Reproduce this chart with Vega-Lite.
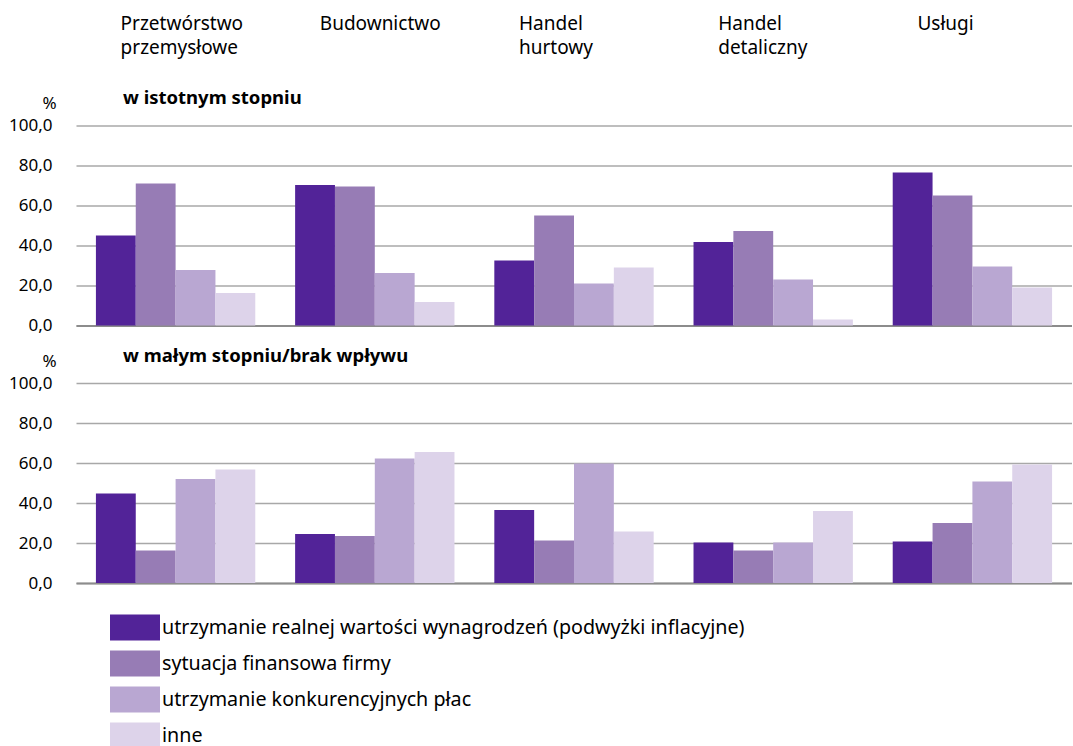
{
  "$schema": "https://vega.github.io/schema/vega-lite/v6.json",
  "background": "white",
  "padding": {"left": 8, "top": 5, "right": 0, "bottom": 0},
  "config": {
    "font": "Noto Sans",
    "view": {"stroke": null},
    "concat": {"spacing": 12.5}
  },
  "datasets": {
    "bars": [
      {"sektor": "Przetwórstwo przemysłowe", "panel": "a", "seria": "utrzymanie realnej wartości wynagrodzeń (podwyżki inflacyjne)", "wartosc": 45.0},
      {"sektor": "Przetwórstwo przemysłowe", "panel": "a", "seria": "sytuacja finansowa firmy", "wartosc": 71.0},
      {"sektor": "Przetwórstwo przemysłowe", "panel": "a", "seria": "utrzymanie konkurencyjnych płac", "wartosc": 27.8},
      {"sektor": "Przetwórstwo przemysłowe", "panel": "a", "seria": "inne", "wartosc": 16.2},
      {"sektor": "Budownictwo", "panel": "a", "seria": "utrzymanie realnej wartości wynagrodzeń (podwyżki inflacyjne)", "wartosc": 70.3},
      {"sektor": "Budownictwo", "panel": "a", "seria": "sytuacja finansowa firmy", "wartosc": 69.5},
      {"sektor": "Budownictwo", "panel": "a", "seria": "utrzymanie konkurencyjnych płac", "wartosc": 26.2},
      {"sektor": "Budownictwo", "panel": "a", "seria": "inne", "wartosc": 11.8},
      {"sektor": "Handel hurtowy", "panel": "a", "seria": "utrzymanie realnej wartości wynagrodzeń (podwyżki inflacyjne)", "wartosc": 32.5},
      {"sektor": "Handel hurtowy", "panel": "a", "seria": "sytuacja finansowa firmy", "wartosc": 55.0},
      {"sektor": "Handel hurtowy", "panel": "a", "seria": "utrzymanie konkurencyjnych płac", "wartosc": 21.0},
      {"sektor": "Handel hurtowy", "panel": "a", "seria": "inne", "wartosc": 29.0},
      {"sektor": "Handel detaliczny", "panel": "a", "seria": "utrzymanie realnej wartości wynagrodzeń (podwyżki inflacyjne)", "wartosc": 41.8},
      {"sektor": "Handel detaliczny", "panel": "a", "seria": "sytuacja finansowa firmy", "wartosc": 47.3},
      {"sektor": "Handel detaliczny", "panel": "a", "seria": "utrzymanie konkurencyjnych płac", "wartosc": 23.0},
      {"sektor": "Handel detaliczny", "panel": "a", "seria": "inne", "wartosc": 3.0},
      {"sektor": "Usługi", "panel": "a", "seria": "utrzymanie realnej wartości wynagrodzeń (podwyżki inflacyjne)", "wartosc": 76.5},
      {"sektor": "Usługi", "panel": "a", "seria": "sytuacja finansowa firmy", "wartosc": 65.0},
      {"sektor": "Usługi", "panel": "a", "seria": "utrzymanie konkurencyjnych płac", "wartosc": 29.5},
      {"sektor": "Usługi", "panel": "a", "seria": "inne", "wartosc": 19.0},
      {"sektor": "Przetwórstwo przemysłowe", "panel": "b", "seria": "utrzymanie realnej wartości wynagrodzeń (podwyżki inflacyjne)", "wartosc": 44.7},
      {"sektor": "Przetwórstwo przemysłowe", "panel": "b", "seria": "sytuacja finansowa firmy", "wartosc": 16.2},
      {"sektor": "Przetwórstwo przemysłowe", "panel": "b", "seria": "utrzymanie konkurencyjnych płac", "wartosc": 52.0},
      {"sektor": "Przetwórstwo przemysłowe", "panel": "b", "seria": "inne", "wartosc": 56.8},
      {"sektor": "Budownictwo", "panel": "b", "seria": "utrzymanie realnej wartości wynagrodzeń (podwyżki inflacyjne)", "wartosc": 24.5},
      {"sektor": "Budownictwo", "panel": "b", "seria": "sytuacja finansowa firmy", "wartosc": 23.5},
      {"sektor": "Budownictwo", "panel": "b", "seria": "utrzymanie konkurencyjnych płac", "wartosc": 62.2},
      {"sektor": "Budownictwo", "panel": "b", "seria": "inne", "wartosc": 65.5},
      {"sektor": "Handel hurtowy", "panel": "b", "seria": "utrzymanie realnej wartości wynagrodzeń (podwyżki inflacyjne)", "wartosc": 36.5},
      {"sektor": "Handel hurtowy", "panel": "b", "seria": "sytuacja finansowa firmy", "wartosc": 21.3},
      {"sektor": "Handel hurtowy", "panel": "b", "seria": "utrzymanie konkurencyjnych płac", "wartosc": 59.8},
      {"sektor": "Handel hurtowy", "panel": "b", "seria": "inne", "wartosc": 25.7},
      {"sektor": "Handel detaliczny", "panel": "b", "seria": "utrzymanie realnej wartości wynagrodzeń (podwyżki inflacyjne)", "wartosc": 20.3},
      {"sektor": "Handel detaliczny", "panel": "b", "seria": "sytuacja finansowa firmy", "wartosc": 16.3},
      {"sektor": "Handel detaliczny", "panel": "b", "seria": "utrzymanie konkurencyjnych płac", "wartosc": 20.3},
      {"sektor": "Handel detaliczny", "panel": "b", "seria": "inne", "wartosc": 36.0},
      {"sektor": "Usługi", "panel": "b", "seria": "utrzymanie realnej wartości wynagrodzeń (podwyżki inflacyjne)", "wartosc": 20.7},
      {"sektor": "Usługi", "panel": "b", "seria": "sytuacja finansowa firmy", "wartosc": 30.0},
      {"sektor": "Usługi", "panel": "b", "seria": "utrzymanie konkurencyjnych płac", "wartosc": 50.8},
      {"sektor": "Usługi", "panel": "b", "seria": "inne", "wartosc": 59.3}
    ],
    "naglowki": [
      {"sektor": "Przetwórstwo przemysłowe", "etykieta": "Przetwórstwo|przemysłowe"},
      {"sektor": "Budownictwo", "etykieta": "Budownictwo"},
      {"sektor": "Handel hurtowy", "etykieta": "Handel|hurtowy"},
      {"sektor": "Handel detaliczny", "etykieta": "Handel|detaliczny"},
      {"sektor": "Usługi", "etykieta": "Usługi"}
    ]
  },
  "vconcat": [
    {
      "width": 996,
      "height": 71,
      "data": {"name": "naglowki"},
      "mark": {"type": "text", "align": "left", "baseline": "top", "lineBreak": "|", "dx": -55, "dy": -26, "fontSize": 19, "lineHeight": 24, "color": "black"},
      "encoding": {
        "x": {"field": "sektor", "type": "nominal", "sort": null, "axis": null, "scale": {"paddingInner": 0, "paddingOuter": 0}},
        "text": {"field": "etykieta", "type": "nominal"}
      }
    },
    {
      "width": 996,
      "height": 200,
      "data": {"name": "bars"},
      "transform": [{"filter": "datum.panel === 'a'"}],
      "title": {"text": "w istotnym stopniu", "anchor": "start", "frame": "group", "fontSize": 18.5, "fontWeight": "bold", "dx": 47, "offset": -13, "color": "black"},
      "mark": {"type": "bar"},
      "encoding": {
        "x": {"field": "sektor", "type": "nominal", "sort": null, "title": null, "scale": {"paddingInner": 0.2, "paddingOuter": 0.1},
          "axis": {"labels": false, "ticks": false, "domain": true, "domainColor": "#8c8c8c", "domainWidth": 2}},
        "xOffset": {"field": "seria", "type": "nominal", "sort": null, "scale": {"paddingInner": 0, "paddingOuter": 0}},
        "y": {"field": "wartosc", "type": "quantitative", "scale": {"domain": [0, 100]}, "title": "%",
          "axis": {"values": [0, 20, 40, 60, 80, 100], "labelExpr": "replace(format(datum.value, '.1f'), '.', ',')", "domain": false, "ticks": false, "labelPadding": 24, "labelFontSize": 17, "labelColor": "black", "gridColor": "#a8a8a8", "gridWidth": 1.6,
            "titleAngle": 0, "titleX": -27, "titleY": -22, "titleAlign": "center", "titleBaseline": "middle", "titleFontWeight": "normal", "titleFontSize": 17, "titleColor": "black"}},
        "color": {"field": "seria", "type": "nominal", "sort": null,
          "scale": {"domain": ["utrzymanie realnej wartości wynagrodzeń (podwyżki inflacyjne)", "sytuacja finansowa firmy", "utrzymanie konkurencyjnych płac", "inne"], "range": ["#522398", "#977cb5", "#b9a7d2", "#ddd3ea"]},
          "legend": {"title": null, "orient": "none", "legendX": 46.5, "legendY": 610, "direction": "vertical", "symbolType": "M-2,-1.04H2V1.04H-2Z", "symbolSize": 625, "symbolStrokeWidth": 0, "labelFontSize": 19.7, "labelColor": "black", "labelOffset": 14.5, "rowPadding": 9, "labelLimit": 800}}
      }
    },
    {
      "width": 996,
      "height": 200,
      "data": {"name": "bars"},
      "transform": [{"filter": "datum.panel === 'b'"}],
      "title": {"text": "w małym stopniu/brak wpływu", "anchor": "start", "frame": "group", "fontSize": 18.5, "fontWeight": "bold", "dx": 47, "offset": -13, "color": "black"},
      "mark": {"type": "bar"},
      "encoding": {
        "x": {"field": "sektor", "type": "nominal", "sort": null, "title": null, "scale": {"paddingInner": 0.2, "paddingOuter": 0.1},
          "axis": {"labels": false, "ticks": false, "domain": true, "domainColor": "#8c8c8c", "domainWidth": 2}},
        "xOffset": {"field": "seria", "type": "nominal", "sort": null, "scale": {"paddingInner": 0, "paddingOuter": 0}},
        "y": {"field": "wartosc", "type": "quantitative", "scale": {"domain": [0, 100]}, "title": "%",
          "axis": {"values": [0, 20, 40, 60, 80, 100], "labelExpr": "replace(format(datum.value, '.1f'), '.', ',')", "domain": false, "ticks": false, "labelPadding": 24, "labelFontSize": 17, "labelColor": "black", "gridColor": "#a8a8a8", "gridWidth": 1.6,
            "titleAngle": 0, "titleX": -27, "titleY": -22, "titleAlign": "center", "titleBaseline": "middle", "titleFontWeight": "normal", "titleFontSize": 17, "titleColor": "black"}},
        "color": {"field": "seria", "type": "nominal", "sort": null,
          "scale": {"domain": ["utrzymanie realnej wartości wynagrodzeń (podwyżki inflacyjne)", "sytuacja finansowa firmy", "utrzymanie konkurencyjnych płac", "inne"], "range": ["#522398", "#977cb5", "#b9a7d2", "#ddd3ea"]},
          "legend": {"title": null, "orient": "none", "legendX": 46.5, "legendY": 610, "direction": "vertical", "symbolType": "M-2,-1.04H2V1.04H-2Z", "symbolSize": 625, "symbolStrokeWidth": 0, "labelFontSize": 19.7, "labelColor": "black", "labelOffset": 14.5, "rowPadding": 9, "labelLimit": 800}}
      }
    }
  ]
}
